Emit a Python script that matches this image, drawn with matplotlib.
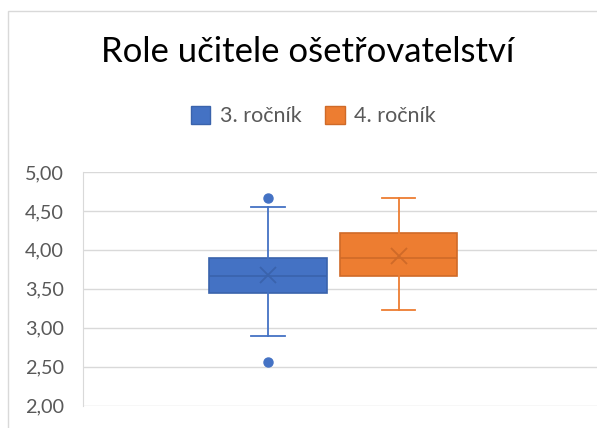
import matplotlib
matplotlib.use("Agg")
from matplotlib import pyplot as plt
from matplotlib.patches import Rectangle

# data (Excel box & whisker)
series = ['3. ročník', '4. ročník']
whislo = [2.889, 3.222]
q1 = [3.444, 3.667]
med = [3.667, 3.889]
q3 = [3.889, 4.222]
whishi = [4.556, 4.667]
means = [3.68, 3.92]
fliers = [[4.667, 2.556], []]

colors = ['#4472C4', '#ED7D31']
edges = ['#3A63AC', '#CF6A28']

ticks = [2.0, 2.5, 3.0, 3.5, 4.0, 4.5, 5.0]
tick_labels = [f'{t:.2f}'.replace('.', ',') for t in ticks]

plt.rcParams['font.family'] = ['Lato', 'DejaVu Sans']

fig = plt.figure(figsize=(5.97, 4.28), dpi=100)
fig.patches.append(Rectangle((8 / 597, -0.1), 1.2, 1.1 - 11 / 428, transform=fig.transFigure,
                             fill=False, edgecolor='#d9d9d9', linewidth=1.0))
ax = fig.add_axes([83 / 597, 22.5 / 428, 514 / 597, 233.5 / 428])

positions = [1, 2]
for i in range(len(series)):
    stats = [dict(whislo=whislo[i], q1=q1[i], med=med[i], q3=q3[i], whishi=whishi[i],
                  mean=means[i], fliers=fliers[i], label=series[i])]
    ax.bxp(stats, positions=[positions[i]], widths=0.9, patch_artist=True, showmeans=True,
           boxprops=dict(facecolor=colors[i], edgecolor=edges[i], linewidth=1.2),
           medianprops=dict(color=edges[i], linewidth=1.2),
           whiskerprops=dict(color=colors[i], linewidth=1.3),
           capprops=dict(color=colors[i], linewidth=1.3),
           capwidths=0.26,
           meanprops=dict(marker='x', markersize=11, markeredgecolor=edges[i], markeredgewidth=1.3),
           flierprops=dict(marker='o', markersize=6.5, markerfacecolor=colors[i],
                           markeredgecolor=colors[i]),
           zorder=3)

ax.set_xlim(-0.418, 3.521)
ax.set_ylim(2, 5)
ax.set_yticks(ticks)
ax.set_yticklabels(tick_labels, fontsize=14.3, color='#595959')
ax.set_xticks([])
ax.tick_params(axis='y', length=0, pad=14)
ax.grid(axis='y', color='#d9d9d9', linewidth=1.0, zorder=0)
for s in ['top', 'right', 'bottom']:
    ax.spines[s].set_visible(False)
ax.spines['left'].set_color('#d9d9d9')

fig.text(308 / 597, 1 - 52 / 428, 'Role učitele ošetřovatelství', ha='center', va='center',
         fontsize=25, color='#000000')

handles = [Rectangle((0, 0), 1, 1, facecolor=colors[i], edgecolor=edges[i]) for i in range(2)]
fig.legend(handles, series, loc='center', bbox_to_anchor=(313.5 / 597, 1 - 116 / 428), ncol=2,
           frameon=False, fontsize=15.5, labelcolor='#595959', handlelength=0.9, handleheight=0.9,
           handletextpad=0.45, columnspacing=1.1)

fig.savefig('out.png', dpi=100)
